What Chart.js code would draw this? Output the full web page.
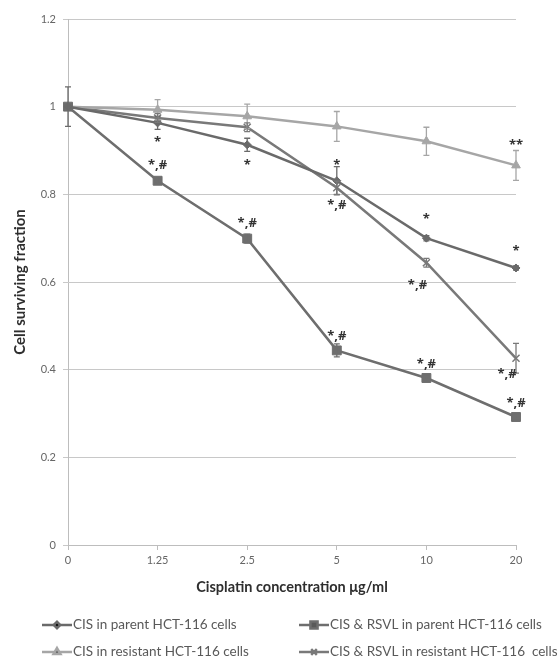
<!DOCTYPE html>
<html>
<head>
<meta charset="utf-8">
<script src="https://cdn.jsdelivr.net/npm/chart.js@4/dist/chart.umd.min.js"></script>
<style>
  html, body { margin: 0; padding: 0; background: #fff; }
  #wrap { width: 560px; height: 657px; }
</style>
</head>
<body>
<div id="wrap"><canvas id="survivalChart" width="560" height="657"></canvas></div>
<script>
// concentrations (x categories)
const concentrations = ['0', '1.25', '2.5', '5', '10', '20'];

// surviving fractions
const cisParent        = [1, 0.963, 0.913, 0.831, 0.700, 0.632];
const cisRsvlParent    = [1, 0.831, 0.699, 0.444, 0.381, 0.292];
const cisResistant     = [1, 0.993, 0.978, 0.955, 0.921, 0.866];
const cisRsvlResistant = [1, 0.974, 0.953, 0.815, 0.644, 0.426];

// error bars (+/-)
const errCisParent        = [0.045, 0.015, 0.015, 0.032, 0.006, 0.005];
const errCisRsvlParent    = [0, 0.006, 0.010, 0.015, 0.005, 0.005];
const errCisResistant     = [0, 0.023, 0.028, 0.034, 0.032, 0.034];
const errCisRsvlResistant = [0, 0.010, 0.010, 0.015, 0.010, 0.034];

// significance marks: category index, value, text
const marks = [
  { x: 1, y: 0.925, text: '*' },
  { x: 1, y: 0.872, text: '*,#' },
  { x: 2, y: 0.874, text: '*' },
  { x: 2, y: 0.740, text: '*,#' },
  { x: 3, y: 0.874, text: '*' },
  { x: 3, y: 0.781, text: '*,#' },
  { x: 3, y: 0.484, text: '*,#' },
  { x: 4, y: 0.749, text: '*' },
  { x: 3.9, y: 0.600, text: '*,#' },
  { x: 4, y: 0.418, text: '*,#' },
  { x: 5, y: 0.918, text: '**' },
  { x: 5, y: 0.678, text: '*' },
  { x: 4.9, y: 0.397, text: '*,#' },
  { x: 5, y: 0.331, text: '*,#' }
];

const yTicks = [0, 0.2, 0.4, 0.6, 0.8, 1, 1.2];

const FONT = 'Lato, "Open Sans", sans-serif';

const errorBars = {
  id: 'errorBars',
  afterDatasetsDraw(chart) {
    const ctx = chart.ctx;
    const yScale = chart.scales.y;
    chart.data.datasets.forEach((ds, i) => {
      const meta = chart.getDatasetMeta(i);
      ctx.save();
      ctx.strokeStyle = ds.borderColor;
      ctx.lineWidth = 1.3;
      ds.errors.forEach((e, j) => {
        if (!e) return;
        const x = meta.data[j].x;
        const yt = yScale.getPixelForValue(ds.data[j] + e);
        const yb = yScale.getPixelForValue(ds.data[j] - e);
        ctx.beginPath();
        ctx.moveTo(x, yt); ctx.lineTo(x, yb);
        ctx.moveTo(x - 3, yt); ctx.lineTo(x + 3, yt);
        ctx.moveTo(x - 3, yb); ctx.lineTo(x + 3, yb);
        ctx.stroke();
      });
      ctx.restore();
    });
  }
};

const sigMarks = {
  id: 'sigMarks',
  afterDatasetsDraw(chart) {
    const ctx = chart.ctx;
    const xs = chart.scales.x, ys = chart.scales.y;
    ctx.save();
    ctx.fillStyle = '#333';
    ctx.font = 'bold 13px "Open Sans", sans-serif';
    ctx.textAlign = 'center';
    ctx.textBaseline = 'middle';
    marks.forEach(m => {
      ctx.fillText(m.text, xs.getPixelForValue(m.x), ys.getPixelForValue(m.y) + 3);
    });
    ctx.restore();
  }
};

// two-column legend under the plot
const gridLegend = {
  id: 'gridLegend',
  afterDraw(chart) {
    const ctx = chart.ctx;
    const cols = [42, 299];
    const rows = [625, 652];
    ctx.save();
    ctx.font = '13.5px ' + FONT;
    ctx.textBaseline = 'middle';
    chart.data.datasets.forEach((ds, k) => {
      const x = cols[k % 2], y = rows[Math.floor(k / 2)];
      ctx.strokeStyle = ds.borderColor;
      ctx.lineWidth = 2.5;
      ctx.beginPath();
      ctx.moveTo(x, y); ctx.lineTo(x + 30, y);
      ctx.stroke();
      Chart.helpers.drawPoint(ctx, {
        pointStyle: ds.pointStyle,
        radius: ds.pointRadius * 0.8,
        borderWidth: 1.5
      }, x + 15, y);
      ctx.fillStyle = '#595959';
      ctx.fillText(ds.label, x + 31, y);
    });
    ctx.restore();
  }
};

function series(label, data, errors, color, style, radius) {
  return {
    label, data, errors,
    borderColor: color,
    backgroundColor: color,
    borderWidth: 2.5,
    pointStyle: style,
    pointRadius: radius,
    pointBorderWidth: style === 'crossRot' ? 1.5 : 1,
    pointBackgroundColor: color,
    pointBorderColor: color,
    tension: 0
  };
}

// order matches the legend: parent / parent, resistant / resistant
new Chart(document.getElementById('survivalChart'), {
  type: 'line',
  data: {
    labels: concentrations,
    datasets: [
      series('CIS in parent HCT-116 cells', cisParent, errCisParent, '#6a6a6a', 'rectRot', 4),
      series('CIS & RSVL in parent HCT-116 cells', cisRsvlParent, errCisRsvlParent, '#6e6e6e', 'rect', 6.3),
      series('CIS in resistant HCT-116 cells', cisResistant, errCisResistant, '#a6a6a6', 'triangle', 5),
      series('CIS & RSVL in resistant HCT-116  cells', cisRsvlResistant, errCisRsvlResistant, '#797979', 'crossRot', 5)
    ]
  },
  options: {
    responsive: false,
    animation: false,
    layout: { padding: { left: 0, right: 44, top: 19, bottom: 61 } },
    plugins: {
      legend: { display: false },
      tooltip: { enabled: false }
    },
    scales: {
      x: {
        offset: false,
        afterFit: s => { s.height = 51; },
        grid: { drawOnChartArea: false, drawTicks: true, tickLength: 5, color: '#bdbdbd' },
        border: { color: '#bdbdbd', width: 1 },
        ticks: { color: '#666', font: { family: FONT, size: 11 }, padding: 4, maxRotation: 0 },
        title: {
          display: true,
          text: 'Cisplatin concentration μg/ml',
          color: '#2e2e2e',
          font: { family: FONT, size: 14.5, weight: 'bold' },
          padding: { top: 0, bottom: 0 }
        }
      },
      y: {
        min: 0,
        max: 1.2,
        afterFit: s => { s.width = 68; },
        afterBuildTicks: s => { s.ticks = yTicks.map(v => ({ value: v })); },
        grid: { color: '#c8c8c8', lineWidth: 1, tickLength: 5 },
        border: { color: '#bdbdbd', width: 1 },
        ticks: {
          color: '#666',
          font: { family: FONT, size: 11 },
          padding: 7,
          callback: v => String(+v.toFixed(1))
        },
        title: {
          display: true,
          text: 'Cell surviving fraction',
          color: '#2e2e2e',
          font: { family: FONT, size: 15, weight: 'bold' },
          padding: { top: 11, bottom: 0 }
        }
      }
    }
  },
  plugins: [errorBars, sigMarks, gridLegend]
});
</script>
</body>
</html>
